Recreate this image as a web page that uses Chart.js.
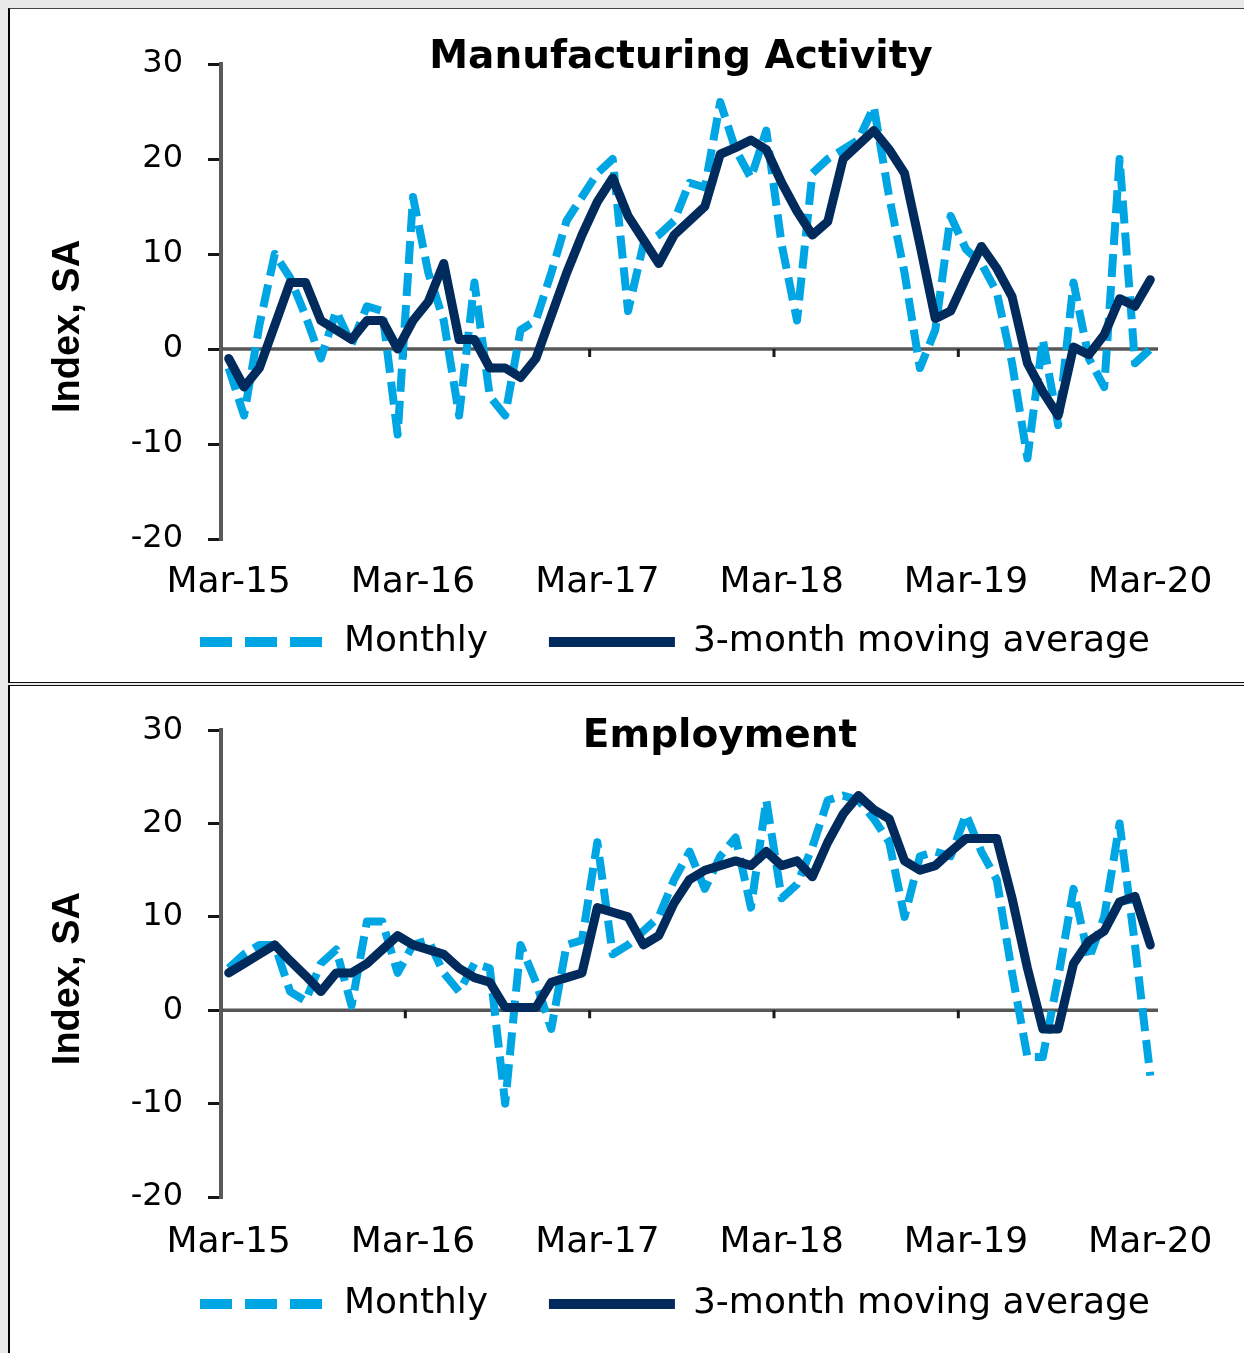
<!DOCTYPE html>
<html>
<head>
<meta charset="utf-8">
<script src="https://cdn.jsdelivr.net/npm/chart.js@4.4.1/dist/chart.umd.min.js"></script>
<style>
  html, body { margin: 0; padding: 0; width: 1244px; height: 1353px; overflow: hidden; background: #e9e9e9; }
  .box { position: absolute; left: 8px; width: 1400px; background: #ffffff; border-left: 2px solid #000; overflow: hidden; }
  #box1 { top: 8px; height: 673px; border-top: 1px solid #444; border-bottom: 1px solid #111; }
  #box2 { top: 685px; height: 700px; border-top: 1px solid #111; }
  canvas { position: absolute; left: 0; top: 0; }
</style>
</head>
<body>
<div class="box" id="box1"><canvas id="c1" width="1330" height="673"></canvas></div>
<div class="box" id="box2"><canvas id="c2" width="1330" height="667"></canvas></div>
<script>
// ---------- data ----------
const months = [
  'Mar-15','Apr-15','May-15','Jun-15','Jul-15','Aug-15','Sep-15','Oct-15','Nov-15','Dec-15',
  'Jan-16','Feb-16','Mar-16','Apr-16','May-16','Jun-16','Jul-16','Aug-16','Sep-16','Oct-16','Nov-16','Dec-16',
  'Jan-17','Feb-17','Mar-17','Apr-17','May-17','Jun-17','Jul-17','Aug-17','Sep-17','Oct-17','Nov-17','Dec-17',
  'Jan-18','Feb-18','Mar-18','Apr-18','May-18','Jun-18','Jul-18','Aug-18','Sep-18','Oct-18','Nov-18','Dec-18',
  'Jan-19','Feb-19','Mar-19','Apr-19','May-19','Jun-19','Jul-19','Aug-19','Sep-19','Oct-19','Nov-19','Dec-19',
  'Jan-20','Feb-20','Mar-20'
];
const yTicks = [-20, -10, 0, 10, 20, 30];

const mfgMonthly = [-2,-7,2.5,10,7.5,3.5,-1,4,0.5,4.5,4,-9,16,8,3,-7,7,-5,-7,2,3,8,13.5,16,18.5,20,4,11,12,13.5,17.5,17,26,21,18,23,11,3,18.5,20,21,22,25.5,16,8,-2,2,14,10.5,9,6,-1.5,-11.5,1,-8,7,-1,-4,20,-1.5,0];
const mfgAvg3m    = [-1,-4,-2,2.5,7,7,3,2,1,3,3,0,3,5,9,1,1,-2,-2,-3,-1,3.5,8,12,15.5,18,14,11.5,9,12,13.5,15,20.5,21.2,22,21,17.5,14.5,12,13.4,20,21.5,23,21,18.5,11,3.2,4,7.5,10.8,8.5,5.5,-1.5,-4.5,-7,0.2,-0.6,1.5,5.3,4.5,7.3];

const empMonthly = [4.5,6,7,7,2,1,5,6.5,0.5,9.5,9.5,4,7,7.5,4,2,5,4.5,-10,7,3,-2,7,7.5,18,6,7,8.5,10,14,17,13,16.5,18.5,11,22.5,12,13.5,17.5,22.5,23,22.5,20.5,18,10,16.5,17,16.5,21,17,14,4,-5,-5,3.5,13,5.5,10,20,7,-7];
const empAvg3m    = [4,5,6,7,5.3,3.7,2,4,4,5,6.5,8,7,6.5,6,4.5,3.5,3,0.3,0.3,0.3,3,3.5,4,11,10.5,10,7,8,11.5,14,15,15.5,16,15.5,17,15.5,16,14.3,18,21,23,21.5,20.5,16,15,15.5,17,18.4,18.4,18.4,12,4.5,-2,-2,5,7.4,8.5,11.6,12.2,7];

const seriesNames = ['Monthly', '3-month moving average'];
const titles = ['Manufacturing Activity', 'Employment'];
const yAxisTitle = 'Index, SA';

// ---------- plugins ----------
const zeroLinePlugin = {
  id: 'zeroLine',
  beforeDatasetsDraw(chart) {
    const { ctx, chartArea, scales } = chart;
    const x = scales.x, y = scales.y;
    const y0 = y.getPixelForValue(0);
    ctx.save();
    ctx.strokeStyle = '#575757';
    ctx.lineWidth = 3.5;
    ctx.beginPath();
    ctx.moveTo(chartArea.left, y0);
    ctx.lineTo(chartArea.right, y0);
    ctx.stroke();
    ctx.strokeStyle = '#1a1a1a';
    ctx.lineWidth = 3;
    for (let k = 12; k < months.length - 1; k += 12) {
      const px = (x.getPixelForValue(k - 1) + x.getPixelForValue(k)) / 2;
      ctx.beginPath();
      ctx.moveTo(px, y0);
      ctx.lineTo(px, y0 + 8);
      ctx.stroke();
    }
    ctx.restore();
  }
};

const shiftPlugin = {
  id: 'shift',
  afterLayout(chart, args, opts) {
    if (chart.titleBlock) {
      chart.titleBlock.left += opts.title || 0;
      chart.titleBlock.right += opts.title || 0;
    }
    const t = chart.scales.yTitle;
    if (t) { t.top += opts.yTitle || 0; t.bottom += opts.yTitle || 0; }
  }
};

Chart.defaults.font.family = "'DejaVu Sans', sans-serif";
Chart.defaults.color = '#000';

function makeChart(id, title, monthly, avg, L) {
  const ctx = document.getElementById(id);
  return new Chart(ctx, {
    type: 'line',
    data: {
      labels: months,
      datasets: [
        {
          label: seriesNames[0], data: monthly,
          borderColor: '#00A6E3', backgroundColor: '#00A6E3',
          borderWidth: 8, borderDash: [23, 9], pointRadius: 0, tension: 0, fill: false, order: 2,
          borderJoinStyle: 'round',
          legendDash: [32, 13], legendWidth: 10
        },
        {
          label: seriesNames[1], data: avg,
          borderColor: '#002B5C', backgroundColor: '#002B5C',
          borderWidth: 9, pointRadius: 0, tension: 0, fill: false, order: 1,
          borderJoinStyle: 'round', borderCapStyle: 'round',
          legendDash: [], legendWidth: 10
        }
      ]
    },
    options: {
      responsive: false,
      animation: false,
      devicePixelRatio: 1,
      events: [],
      layout: { padding: { left: 0, right: 0, top: 0, bottom: L.padBottom } },
      scales: {
        x: {
          type: 'category', offset: true,
          grid: { display: false, drawTicks: false },
          border: { display: false },
          ticks: { autoSkip: false, maxRotation: 0, minRotation: 0, padding: L.xPad, color: '#000',
                   font: { family: "'DejaVu Sans', sans-serif", size: 36 } },
          afterBuildTicks: s => { s.ticks = s.ticks.filter(t => t.value % 12 === 0); },
          afterFit: s => { s.height = L.xHeight; }
        },
        y: {
          position: 'left', min: yTicks[0], max: yTicks[yTicks.length - 1],
          afterBuildTicks: s => { s.ticks = yTicks.map(v => ({ value: v })); },
          ticks: { padding: 25, color: '#000', font: { family: "'DejaVu Sans', sans-serif", size: 32 } },
          grid: { drawOnChartArea: false, drawTicks: true, tickLength: 13, color: '#151515', lineWidth: 3 },
          border: { display: true, color: '#5a5a5a', width: 4 },
          afterFit: s => { s.width = 111; }
        },
        yTitle: {
          type: 'linear', position: 'left', weight: 10,
          ticks: { display: false }, grid: { display: false }, border: { display: false },
          title: { display: true, text: yAxisTitle, color: '#000',
                   font: { family: "'Liberation Sans', Arial, sans-serif", size: 38, weight: 'bold', lineHeight: 1.2 },
                   padding: { top: 36, bottom: 0 } },
          afterFit: s => { s.width = 100; }
        },
        yR: {
          type: 'linear', position: 'right',
          ticks: { display: false }, grid: { display: false }, border: { display: false },
          afterFit: s => { s.width = 182; }
        }
      },
      plugins: {
        shift: { title: L.titleShift, yTitle: L.yTitleShift },
        title: {
          display: true, text: title, color: '#000',
          font: { family: "'DejaVu Sans', sans-serif", size: 39, weight: 'bold', lineHeight: 1 },
          padding: { top: L.titleTop, bottom: L.titleBottom }
        },
        legend: {
          display: true, position: 'bottom',
          labels: {
            usePointStyle: true, pointStyleWidth: 126, padding: 15, color: '#000',
            font: { family: "'DejaVu Sans', sans-serif", size: 36 },
            generateLabels: ch => ch.data.datasets.map((ds, i) => ({
              text: i === 0 ? ds.label + '\u00a0\u00a0\u00a0\u00a0' : ds.label,
              datasetIndex: i,
              fillStyle: ds.borderColor,
              strokeStyle: ds.borderColor,
              fontColor: '#000',
              lineWidth: ds.legendWidth,
              lineDash: ds.legendDash,
              lineCap: 'butt',
              pointStyle: 'line',
              hidden: false
            }))
          }
        },
        tooltip: { enabled: false }
      }
    },
    plugins: [zeroLinePlugin, shiftPlugin]
  });
}

makeChart('c1', titles[0], mfgMonthly, mfgAvg3m,
  { padBottom: 12, xPad: 22, xHeight: 70, titleTop: 29.5, titleBottom: -13.5, titleShift: 6, yTitleShift: 25 });
makeChart('c2', titles[1], empMonthly, empAvg3m,
  { padBottom: 21, xPad: 24, xHeight: 74, titleTop: 28.5, titleBottom: -26.5, titleShift: 45, yTitleShift: 15 });
</script>
</body>
</html>
